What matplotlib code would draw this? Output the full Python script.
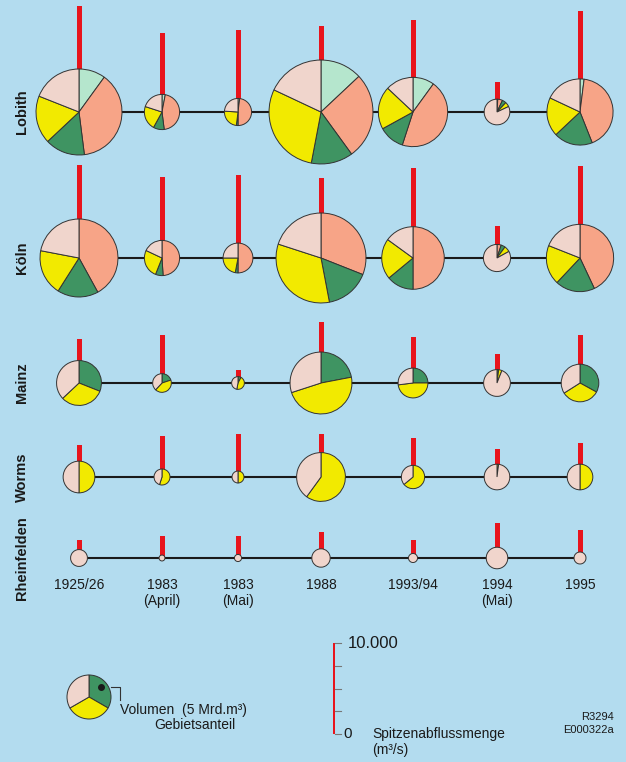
import matplotlib.pyplot as plt
import numpy as np

plt.rcParams['font.family'] = ['Liberation Sans', 'DejaVu Sans']

W, H = 626, 762

stations = ["Lobith", "Köln", "Mainz", "Worms", "Rheinfelden"]
events = ["1925/26", "1983\n(April)", "1983\n(Mai)", "1988", "1993/94", "1994\n(Mai)", "1995"]

# flood volume per station and event [Mrd. m3]
volume_lobith = [19.1, 3.2, 1.9, 27.9, 12.4, 1.7, 11.3]
volume_koeln = [15.7, 3.2, 2.3, 20.9, 10.1, 1.9, 11.7]
volume_mainz = [5.2, 0.9, 0.42, 9.9, 2.3, 1.85, 3.65]
volume_worms = [2.6, 0.66, 0.37, 6.15, 1.4, 1.7, 1.7]
volume_rheinfelden = [0.73, 0.09, 0.13, 0.87, 0.21, 1.2, 0.37]

# peak discharge [m3/s]
peak_lobith = [11600, 8700, 9000, 9450, 10100, 3300, 11100]
peak_koeln = [10200, 8900, 9100, 8800, 9900, 3500, 10100]
peak_mainz = [4870, 5300, 1460, 6670, 5050, 3190, 5300]
peak_worms = [3480, 4470, 4760, 4760, 4250, 3080, 3770]
peak_rheinfelden = [1950, 2380, 2380, 2890, 2010, 3850, 3110]

# share of the sub-basins [%]
# order: Niederrhein, Mittelrhein/Mosel, Main, Oberrhein, Hoch-/Alpenrhein
share_lobith = [[10, 38, 15, 18, 19], [3, 45, 10, 22, 20], [2, 48, 2, 24, 24],
                [13, 27, 13, 29, 18], [10, 45, 12, 20, 13], [1, 6, 5, 6, 82],
                [2, 42, 19, 19, 18]]
share_koeln = [[0, 42, 17, 19, 22], [0, 49, 7, 26, 18], [0, 50, 3, 22, 25],
               [0, 31, 16, 33, 20], [0, 50, 14, 21, 15], [0, 5, 5, 7, 83],
               [0, 43, 19, 19, 19]]
share_mainz = [[0, 0, 31, 32, 37], [0, 0, 20, 42, 38], [0, 0, 8, 45, 47],
               [0, 0, 22, 48, 30], [0, 0, 25, 48, 27], [0, 0, 2, 4, 94],
               [0, 0, 33, 33, 34]]
share_worms = [[0, 0, 0, 50, 50], [0, 0, 0, 55, 45], [0, 0, 0, 50, 50],
               [0, 0, 0, 60, 40], [0, 0, 0, 64, 36], [0, 0, 0, 2, 98],
               [0, 0, 0, 50, 50]]
share_rheinfelden = [[0, 0, 0, 0, 100]] * 7

legend_share = [0, 0, 1, 1, 1]
legend_volume = 5.0
legend_peak = 10000

volumes = [volume_lobith, volume_koeln, volume_mainz, volume_worms, volume_rheinfelden]
peaks = [peak_lobith, peak_koeln, peak_mainz, peak_worms, peak_rheinfelden]
shares = [share_lobith, share_koeln, share_mainz, share_worms, share_rheinfelden]

BG = '#b3dcef'
RED = '#e8141c'
basin_colors = ['#b5e6cd', '#f7a487', '#3f9462', '#f2ea00', '#f0d5cc']

# layout in pixels, measured from the top
col_x = [79, 162, 238, 321, 413, 497, 580]
row_y = [112, 258, 383, 477, 558]
R_REF = 22.0           # radius of 5 Mrd. m3
PX = 91.0 / 10000      # pixels per m3/s


def Y(v):
    return H - v


def radius(vol):
    return R_REF * np.sqrt(vol / legend_volume)


def draw_pie(ax, x, y, vol, share):
    vals = [s for s in share if s > 0]
    cols = [c for s, c in zip(share, basin_colors) if s > 0]
    ax.pie(vals, colors=cols, startangle=90, counterclock=False,
           center=(x, y), radius=radius(vol), frame=True,
           wedgeprops=dict(edgecolor='#333333', linewidth=0.7, zorder=3))


fig = plt.figure(figsize=(W / 100, H / 100), dpi=100, facecolor=BG)
ax = fig.add_axes([0, 0, 1, 1])
ax.set_facecolor(BG)

for i, name in enumerate(stations):
    y = Y(row_y[i])
    ax.plot([col_x[0], col_x[-1]], [y, y], color='#1a1a1a', lw=1.5, zorder=1)
    ax.bar(col_x, np.array(peaks[i]) * PX, width=5, bottom=y, color=RED, zorder=2)
    for j in range(len(events)):
        draw_pie(ax, col_x[j], y, volumes[i][j], shares[i][j])
    ax.text(22, y, name, rotation=90, ha='center', va='center',
            fontsize=10.5, fontweight='bold', color='#1a1a1a')

for j, ev in enumerate(events):
    ax.text(col_x[j], Y(578), ev, ha='center', va='top', fontsize=10, color='#1a1a1a')

# legend: volume / sub-basin share
lx, ly = 89, Y(697)
draw_pie(ax, lx, ly, legend_volume, legend_share)
ax.plot(101, Y(687), 'o', ms=4, color='#1a1a1a', zorder=4)
ax.plot([111, 120, 120], [Y(687), Y(687), Y(700)], color='#333333', lw=0.8, zorder=4)
ax.text(120, Y(710), "Volumen  (5 Mrd.m³)", ha='left', va='center', fontsize=10, color='#1a1a1a')
ax.text(154, Y(725), "Gebietsanteil", ha='left', va='center', fontsize=10, color='#1a1a1a')

# legend: peak discharge scale
sb = Y(734)
ax.bar(334, legend_peak * PX, width=2, bottom=sb, color=RED, zorder=2)
for v in np.arange(0, legend_peak + 1, 2500):
    ax.plot([335, 341], [sb + v * PX] * 2, color='#777777', lw=0.8, zorder=3)
ax.text(348, sb + legend_peak * PX, "10.000", ha='left', va='center', fontsize=12, color='#1a1a1a')
ax.text(343, sb, "0", ha='left', va='center', fontsize=11, color='#1a1a1a')
ax.text(372, sb, "Spitzenabflussmenge", ha='left', va='center', fontsize=10, color='#1a1a1a')
ax.text(372, Y(750), "(m³/s)", ha='left', va='center', fontsize=10, color='#1a1a1a')

ax.text(614, Y(717), "R3294", ha='right', va='center', fontsize=8, color='#1a1a1a')
ax.text(614, Y(730), "E000322a", ha='right', va='center', fontsize=8, color='#1a1a1a')

ax.set_xlim(0, W)
ax.set_ylim(0, H)
ax.set_aspect('equal')
ax.axis('off')

fig.savefig('out.png', dpi=100, facecolor=BG)
